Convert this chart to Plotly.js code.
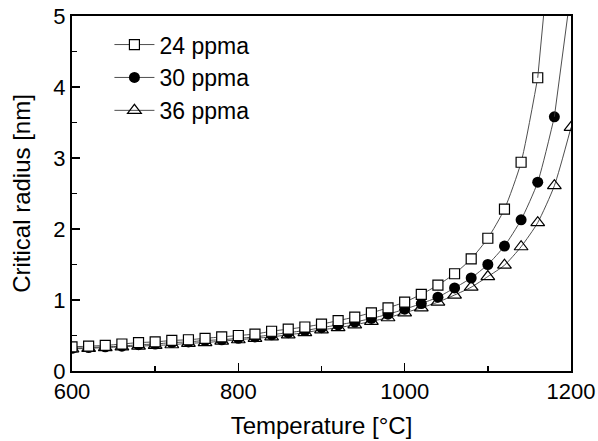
<!DOCTYPE html>
<html>
<head>
<meta charset="utf-8">
<script src="https://cdn.plot.ly/plotly-3.0.1.min.js"></script>
<style>html,body{margin:0;padding:0;background:#fff;}#chart{width:598px;height:441px;}</style>
</head>
<body>
<div id="chart"></div>
<script>
// Data
const temps24 = [600,620,640,660,680,700,720,740,760,780,800,820,840,860,880,900,920,940,960,980,1000,1020,1040,1060,1080,1100,1120,1140,1160];
const radius24 = [0.34,0.35,0.36,0.38,0.40,0.41,0.43,0.44,0.46,0.48,0.50,0.52,0.56,0.59,0.62,0.66,0.71,0.76,0.82,0.89,0.97,1.08,1.21,1.37,1.58,1.87,2.28,2.94,4.13];
const temps30 = [600,620,640,660,680,700,720,740,760,780,800,820,840,860,880,900,920,940,960,980,1000,1020,1040,1060,1080,1100,1120,1140,1160,1180];
const radius30 = [0.32,0.33,0.34,0.35,0.37,0.38,0.40,0.41,0.43,0.44,0.46,0.48,0.51,0.54,0.57,0.61,0.65,0.69,0.74,0.80,0.87,0.95,1.04,1.17,1.31,1.50,1.76,2.13,2.66,3.58];
const temps36 = [600,620,640,660,680,700,720,740,760,780,800,820,840,860,880,900,920,940,960,980,1000,1020,1040,1060,1080,1100,1120,1140,1160,1180,1200];
const radius36 = [0.31,0.32,0.33,0.34,0.35,0.36,0.37,0.39,0.40,0.42,0.44,0.46,0.48,0.51,0.54,0.58,0.61,0.65,0.70,0.75,0.82,0.89,0.97,1.07,1.18,1.33,1.49,1.75,2.09,2.61,3.43];
// where the curves leave the top of the frame
const exitT24 = [1160,1167];
const exitR24 = [4.13,5.0];
const exitT30 = [1180,1196];
const exitR30 = [3.58,5.0];
const seriesNames = ['24 ppma','30 ppma','36 ppma'];

const lineColor = '#3a3a3a';
const lineStyle = {color: lineColor, width: 0.9, shape: 'spline', smoothing: 0.6};

const traces = [
  {x: temps36, y: radius36, name: seriesNames[2], legendrank: 3, mode: 'lines+markers',
   line: lineStyle,
   marker: {symbol: 'triangle-up-open', size: 12, color: '#000', line: {width: 1.2, color: '#000'}}},
  {x: temps30, y: radius30, name: seriesNames[1], legendrank: 2, mode: 'lines+markers',
   line: lineStyle,
   marker: {symbol: 'circle', size: 11, color: '#000', line: {width: 0}}},
  {x: exitT30, y: exitR30, mode: 'lines', showlegend: false, line: {color: lineColor, width: 0.9}},
  {x: temps24, y: radius24, name: seriesNames[0], legendrank: 1, mode: 'lines+markers',
   line: lineStyle,
   marker: {symbol: 'square', size: 10, color: '#fff', line: {width: 1.2, color: '#000'}}},
  {x: exitT24, y: exitR24, mode: 'lines', showlegend: false, line: {color: lineColor, width: 0.9}}
];

const fontFam = 'Arial, "Liberation Sans", sans-serif';
const layout = {
  width: 598, height: 441,
  margin: {l: 72, r: 27, t: 16, b: 70},
  paper_bgcolor: '#fff', plot_bgcolor: '#fff',
  font: {family: fontFam, size: 22, color: '#000'},
  showlegend: true,
  legend: {x: 0.075, y: 0.98, xanchor: 'left', yanchor: 'top', bgcolor: 'rgba(0,0,0,0)',
           font: {family: fontFam, size: 23, color: '#000'}, tracegroupgap: 0, itemwidth: 40},
  xaxis: {
    range: [600, 1200], dtick: 200, tick0: 600,
    ticks: 'inside', ticklen: 8, tickwidth: 1.5, tickcolor: '#000',
    showline: true, linewidth: 2, linecolor: '#000', mirror: true,
    showgrid: false, zeroline: false,
    minor: {dtick: 100, ticks: 'inside', ticklen: 5, tickwidth: 1.5, tickcolor: '#000', showgrid: false},
    tickfont: {size: 22},
    title: {text: 'Temperature [°C]', font: {size: 24}, standoff: 14}
  },
  yaxis: {
    range: [0, 5], dtick: 1, tick0: 0,
    ticks: 'inside', ticklen: 8, tickwidth: 1.5, tickcolor: '#000',
    showline: true, linewidth: 2, linecolor: '#000', mirror: true,
    showgrid: false, zeroline: false,
    minor: {dtick: 0.5, ticks: 'inside', ticklen: 5, tickwidth: 1.5, tickcolor: '#000', showgrid: false},
    tickfont: {size: 22},
    title: {text: 'Critical radius [nm]', font: {size: 24}, standoff: 16}
  }
};

Plotly.newPlot('chart', traces, layout, {displayModeBar: false, staticPlot: true});
</script>
</body>
</html>
